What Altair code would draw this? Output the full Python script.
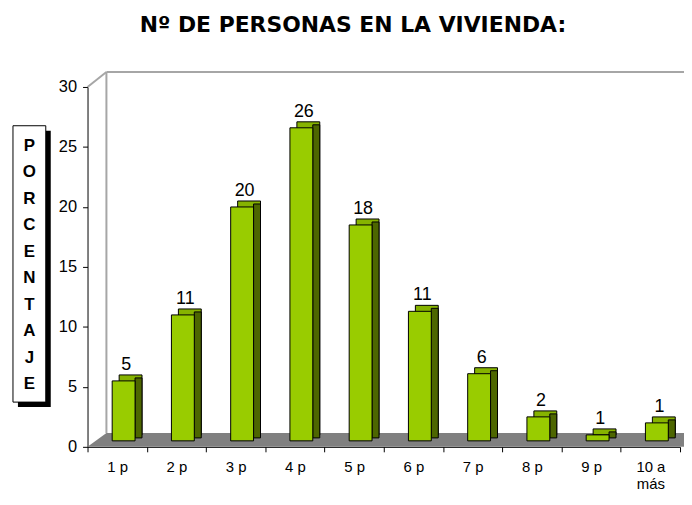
import altair as alt
import pandas as pd

# ---- data ----
categories = ["1 p", "2 p", "3 p", "4 p", "5 p", "6 p", "7 p", "8 p", "9 p", "10 a|más"]
values = [5.0, 10.5, 19.5, 26.1, 18.0, 10.8, 5.6, 2.0, 0.5, 1.5]
labels = ["5", "11", "20", "26", "18", "11", "6", "2", "1", "1"]
y_ticks = [0, 5, 10, 15, 20, 25, 30]
axis_letters = list("PORCENTAJE")
title_text = "Nº DE PERSONAS EN LA VIVIENDA:"

W, H = 596, 362
DEPTH_X, DEPTH_Y = 19, 14

df = pd.DataFrame({"cat": categories, "val": values, "lab": labels})
one = pd.DataFrame({"d": [0]})

xenc = alt.X("cat:N", sort=categories,
             scale=alt.Scale(paddingInner=0, paddingOuter=0),
             axis=alt.Axis(title=None, labelAngle=0, tickBand="extent",
                           labelExpr="split(datum.label, '|')",
                           labelFont="Liberation Sans", labelFontSize=15,
                           labelLineHeight=17, labelPadding=8))
yenc = alt.Y("val:Q", scale=alt.Scale(domain=[0, 30], nice=False),
             axis=alt.Axis(title=None, values=y_ticks, grid=False, labelPadding=6,
                           labelFont="Liberation Sans", labelFontSize=16.5))

base = alt.Chart(df)

top_face = base.mark_bar(width=23, xOffset=13.5, yOffset=-12, y2Offset=-12,
                         fill="#86b300", stroke="black", strokeWidth=1).encode(
    x=xenc, y=yenc, y2=alt.datum(0))
side_face = base.mark_bar(width=7, xOffset=21.5, yOffset=-9, y2Offset=-9,
                          fill="#4d6600", stroke="black", strokeWidth=1).encode(
    x=xenc, y=yenc, y2=alt.datum(0))
front_face = base.mark_bar(width=23, xOffset=6.5, yOffset=-6, y2Offset=-6,
                           fill="#99cc00", stroke="black", strokeWidth=1).encode(
    x=xenc, y=yenc, y2=alt.datum(0))
bar_labels = base.mark_text(dx=9, yOffset=-17, baseline="alphabetic", align="center",
                            font="Liberation Sans", fontSize=18, color="black").encode(
    x=xenc, y=yenc, text="lab:N")

# ---- 3D floor and back wall ----
floor_df = pd.DataFrame({"fx": [0, DEPTH_X, W + DEPTH_X + 10],
                         "fy": [H, H - DEPTH_Y, H - DEPTH_Y],
                         "fy2": [H, H, H]})
floor = alt.Chart(floor_df).mark_area(color="#808080").encode(
    x=alt.X("fx:Q", scale=None, axis=None),
    y=alt.Y("fy:Q", scale=None, axis=None),
    y2="fy2:Q")

wall_style = dict(color="#a6a6a6", strokeWidth=2)
wall_top = alt.Chart(one).mark_rule(**wall_style).encode(
    x=alt.value(DEPTH_X), x2=alt.value(W + 40), y=alt.value(-DEPTH_Y - 1), y2=alt.value(-DEPTH_Y - 1))
wall_left = alt.Chart(one).mark_rule(**wall_style).encode(
    x=alt.value(DEPTH_X), x2=alt.value(DEPTH_X), y=alt.value(-DEPTH_Y - 1), y2=alt.value(H - DEPTH_Y))
wall_diag = alt.Chart(one).mark_rule(**wall_style).encode(
    x=alt.value(0), x2=alt.value(DEPTH_X), y=alt.value(0), y2=alt.value(-DEPTH_Y - 1))

# ---- boxed vertical axis title ----
shadow = alt.Chart(one).mark_rect(color="black").encode(
    x=alt.value(-70), x2=alt.value(-37), y=alt.value(44), y2=alt.value(322))
box = alt.Chart(one).mark_rect(fill="white", stroke="black", strokeWidth=1).encode(
    x=alt.value(-75), x2=alt.value(-42), y=alt.value(39), y2=alt.value(317))
letters = alt.Chart(one).mark_text(text=axis_letters, lineHeight=26.7, font="Liberation Sans",
                                   fontSize=17, fontWeight="bold", align="center",
                                   baseline="middle", color="black").encode(
    x=alt.value(-58.5), y=alt.value(59))

title = alt.Chart(one).mark_text(text=title_text, font="DejaVu Sans", fontSize=22,
                                 fontWeight="bold", align="center", baseline="alphabetic",
                                 color="black").encode(
    x=alt.value(267), y=alt.value(-55))

chart = alt.layer(
    floor, wall_top, wall_left, wall_diag, shadow, box, letters, title,
    top_face, side_face, front_face, bar_labels
).properties(
    width=W, height=H, autosize="none",
    padding={"left": 80, "top": 78, "right": 4, "bottom": 45}
).configure_view(stroke=None).configure_axis(
    domainColor="black", tickColor="black", tickSize=5, domainWidth=1,
    labelColor="black", labelFont="Liberation Sans"
).configure_axisX(
    labelFontSize=15, labelPadding=8, labelLineHeight=17
).configure_axisY(
    labelFontSize=16.5, labelPadding=6
)

chart.save("out.html", embed_options={"renderer": "svg", "actions": False})
